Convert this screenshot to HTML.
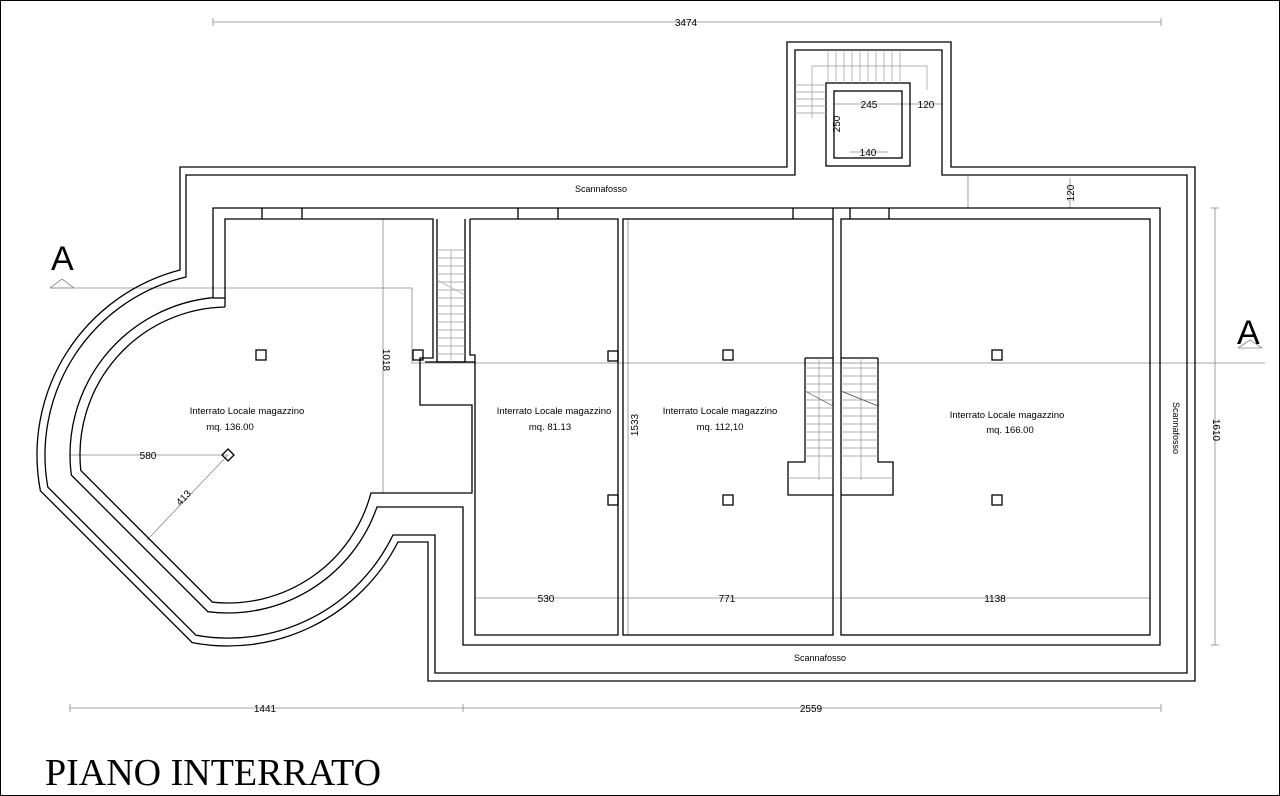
<!DOCTYPE html>
<html><head><meta charset="utf-8"><style>
html,body{margin:0;padding:0;background:#fff}
svg{display:block}
text{font-family:"Liberation Sans",sans-serif;fill:#000}
text.title{font-family:"Liberation Serif",serif}
</style></head><body>
<svg width="1280" height="796" viewBox="0 0 1280 796" xmlns="http://www.w3.org/2000/svg">
<rect x="0.5" y="0.5" width="1279" height="795" fill="#fff" stroke="#000" stroke-width="1"/>
<g fill="none" stroke="#888" stroke-width="0.8">
 <line x1="213" y1="22" x2="1161" y2="22"/>
 <line x1="213" y1="18" x2="213" y2="26"/><line x1="1161" y1="18" x2="1161" y2="26"/>
 <line x1="70" y1="708" x2="1161" y2="708"/>
 <line x1="70" y1="704" x2="70" y2="712"/><line x1="463" y1="704" x2="463" y2="712"/><line x1="1161" y1="704" x2="1161" y2="712"/>
 <line x1="1215" y1="208" x2="1215" y2="645"/>
 <line x1="1211" y1="208" x2="1219" y2="208"/><line x1="1211" y1="645" x2="1219" y2="645"/>
 <line x1="383" y1="219" x2="383" y2="493"/>
 <line x1="628" y1="219" x2="628" y2="635"/>
 <line x1="475" y1="598" x2="1150" y2="598"/>
 <line x1="70" y1="455" x2="228" y2="455"/>
 <line x1="228" y1="455" x2="147" y2="540"/>
 <line x1="968" y1="175" x2="968" y2="208"/>
 <line x1="1070" y1="178" x2="1070" y2="208"/>
 <polyline points="50,288 412,288 412,363 1265,363"/>
 <polyline points="50,288 62,279 74,288"/>
 <polyline points="1238,348 1250,340 1262,348"/>
 <line x1="1238" y1="348" x2="1262" y2="348"/>
 <line x1="50" y1="288" x2="74" y2="288"/>
 <line x1="834" y1="104" x2="942" y2="104"/>
 <line x1="850" y1="152" x2="888" y2="152"/>
</g>
<g fill="none" stroke="#000" stroke-width="1.3">
 <path d="M180,270 L180,167 L787,167 L787,42 L951,42 L951,167 L1195,167 L1195,681 L428,681 L428,542 L398,542 A191,191 0 0 1 192.2,642.6 L40.4,490.8 A191,191 0 0 1 180,270 Z"/>
 <path d="M186,277 L186,175 L795,175 L795,50 L942,50 L942,175 L1187,175 L1187,673 L435,673 L435,535 L393,535 A183,183 0 0 1 195.9,635.2 L47.8,487.1 A183,183 0 0 1 186,277 Z"/>
 <path d="M213,297.7 L213,208 L1160,208 L1160,645 L463,645 L463,507 L377,507 A158,158 0 0 1 207.9,611.7 L71.3,475.1 A158,158 0 0 1 213,297.7 Z"/>
 <path d="M225,307 L225,219 L433,219 L433,358 L420,358 L420,405 L472,405 L472,493 L371,493 A148,148 0 0 1 212.5,602.2 L80.8,470.5 A148,148 0 0 1 225,307"/>
 <line x1="213" y1="298" x2="225" y2="298"/>
 <polyline points="437,219 437,362 465,362 465,219"/>
 <polyline points="470,219 470,355 475,355 475,635 618,635 618,219 470,219"/>
 <line x1="425" y1="362" x2="475" y2="362"/>
 <rect x="623" y="219" width="210" height="416"/>
 <rect x="841" y="219" width="309" height="416"/>
 <line x1="262" y1="208" x2="262" y2="219"/><line x1="302" y1="208" x2="302" y2="219"/>
 <line x1="518" y1="208" x2="518" y2="219"/><line x1="558" y1="208" x2="558" y2="219"/>
 <line x1="793" y1="208" x2="793" y2="219"/><line x1="833" y1="208" x2="833" y2="219"/>
 <line x1="850" y1="208" x2="850" y2="219"/><line x1="889" y1="208" x2="889" y2="219"/>
 <rect x="256" y="350" width="10" height="10"/>
 <rect x="723" y="350" width="10" height="10"/>
 <rect x="992" y="350" width="10" height="10"/>
 <rect x="723" y="495" width="10" height="10"/>
 <rect x="992" y="495" width="10" height="10"/>
 <rect x="608" y="351" width="10" height="10"/>
 <rect x="608" y="495" width="10" height="10"/>
 <rect x="413" y="350" width="10" height="10"/>
 <path d="M228,449 L234,455 L228,461 L222,455 Z"/>
 <rect x="826" y="83" width="84" height="83"/>
 <rect x="834" y="91" width="68" height="67"/>
 <polyline points="805,358 805,462 788,462 788,495 833,495"/>
 <polyline points="878,358 878,462 893,462 893,495 841,495"/>
 <line x1="805" y1="358" x2="833" y2="358"/><line x1="841" y1="358" x2="878" y2="358"/>
</g>
<g fill="none" stroke="#999" stroke-width="0.7">
 <path d="M437,250H465M437,258H465M437,266H465M437,274H465M437,282H465M437,290H465M437,298H465M437,306H465M437,314H465M437,322H465M437,330H465M437,338H465M437,346H465M437,354H465M451,250V362"/>
 <path d="M437,280L465,295"/>
 <path d="M828,50V83M836,50V83M844,50V83M852,50V83M860,50V83M868,50V83M876,50V83M884,50V83M892,50V83M900,50V83"/>
 <path d="M795,85H826M795,92H826M795,99H826M795,106H826M795,113H826M812,66V118M812,66H927V90"/>
 <path d="M805,368H833M805,376H833M805,384H833M805,392H833M805,400H833M805,408H833M805,416H833M805,424H833M805,432H833M805,440H833M805,448H833M805,456H833M819,358V480M788,478H833"/>
 <path d="M841,368H878M841,376H878M841,384H878M841,392H878M841,400H878M841,408H878M841,416H878M841,424H878M841,432H878M841,440H878M841,448H878M841,456H878M861,358V480M841,478H893"/>
 <path d="M805,391L833,406M841,391L878,406" stroke="#444"/>
</g>
<g font-size="10" text-anchor="middle">
 <text x="686" y="26" fill="#333">3474</text>
 <text x="265" y="712">1441</text>
 <text x="811" y="712">2559</text>
 <text x="546" y="602">530</text>
 <text x="727" y="602">771</text>
 <text x="995" y="602">1138</text>
 <text x="148" y="459">580</text>
 <text x="186" y="500" transform="rotate(-47 186 500)">413</text>
 <text x="386" y="357" transform="rotate(90 383 357)">1018</text>
 <text x="638" y="425" transform="rotate(-90 638 425)">1533</text>
 <text x="1213" y="430" transform="rotate(90 1213 430)">1610</text>
 <text x="1074" y="193" transform="rotate(-90 1074 193)">120</text>
 <text x="869" y="108">245</text>
 <text x="926" y="108">120</text>
 <text x="840" y="124" transform="rotate(-90 840 124)">250</text>
 <text x="868" y="156">140</text>
 <text x="601" y="192" font-size="9">Scannafosso</text>
 <text x="820" y="661" font-size="9">Scannafosso</text>
 <text x="1173" y="428" font-size="9" transform="rotate(90 1173 428)">Scannafosso</text>
 <text x="247" y="414" font-size="9.5">Interrato Locale magazzino</text>
 <text x="230" y="430" font-size="9.5">mq. 136.00</text>
 <text x="554" y="414" font-size="9.5">Interrato Locale magazzino</text>
 <text x="550" y="430" font-size="9.5">mq. 81.13</text>
 <text x="720" y="414" font-size="9.5">Interrato Locale magazzino</text>
 <text x="720" y="430" font-size="9.5">mq. 112,10</text>
 <text x="1007" y="418" font-size="9.5">Interrato Locale magazzino</text>
 <text x="1010" y="433" font-size="9.5">mq. 166.00</text>
</g>
<text x="51" y="270" font-size="34">A</text>
<text x="1237" y="344" font-size="34">A</text>
<text class="title" x="45" y="785" font-size="38" style="font-family:'Liberation Serif',serif">PIANO INTERRATO</text>
</svg>
</body></html>
